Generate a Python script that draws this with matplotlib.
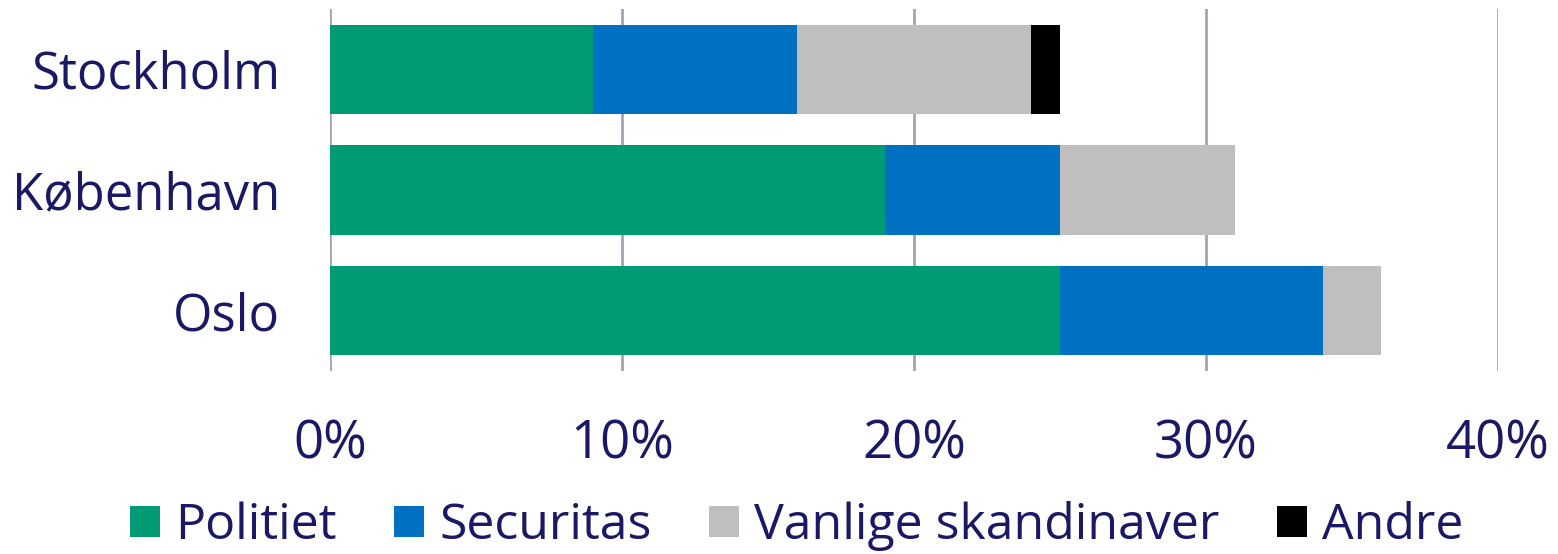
import matplotlib
matplotlib.use("Agg")
import matplotlib.pyplot as plt
from matplotlib.patches import Patch
from matplotlib.ticker import FuncFormatter

cities = ["Stockholm", "København", "Oslo"]
series = ["Politiet", "Securitas", "Vanlige skandinaver", "Andre"]
politiet = [9, 19, 25]
securitas = [7, 6, 9]
vanlige = [8, 6, 2]
andre = [1, 0, 0]
xticks = [0, 10, 20, 30, 40]

colors = ["#009A74", "#0070C0", "#BFBFBF", "#000000"]
text_color = "#1B1866"
plt.rcParams["font.family"] = ["Open Sans", "DejaVu Sans"]

fig = plt.figure(figsize=(15.58, 5.54), dpi=100)
ax = fig.add_axes([330/1558, 1-371/554, 1168/1558, 362/554])

ypos = list(range(len(cities)))
left = [0]*len(cities)
for name, vals, c in zip(series, [politiet, securitas, vanlige, andre], colors):
    ax.barh(ypos, vals, left=left, height=0.74, color=c, label=name, zorder=3)
    left = [l + v for l, v in zip(left, vals)]

ax.set_xlim(0, 40)
ax.set_ylim(2.5, -0.5)
ax.set_xticks(xticks)
ax.xaxis.set_major_formatter(FuncFormatter(lambda v, p: f"{v:.0f}%"))
ax.set_yticks(ypos)
ax.set_yticklabels(cities)
ax.grid(axis="x", color="#A3A3B5", linewidth=2, zorder=0)
for s in ax.spines.values():
    s.set_visible(False)
ax.tick_params(axis="x", length=0, pad=34, labelsize=38, labelcolor=text_color)
ax.tick_params(axis="y", length=0, pad=36, labelsize=36.5, labelcolor=text_color)

handles = [Patch(facecolor=c, edgecolor="none") for c in colors]
fig.legend(handles, series, loc="center", bbox_to_anchor=(0.5 + 18/1558, 1-526/554),
           ncol=4, frameon=False, fontsize=36, labelcolor=text_color,
           handlelength=0.6, handleheight=0.6, handletextpad=0.3, columnspacing=1.15,
           borderaxespad=0, borderpad=0)

fig.savefig("out.png", dpi=100)
